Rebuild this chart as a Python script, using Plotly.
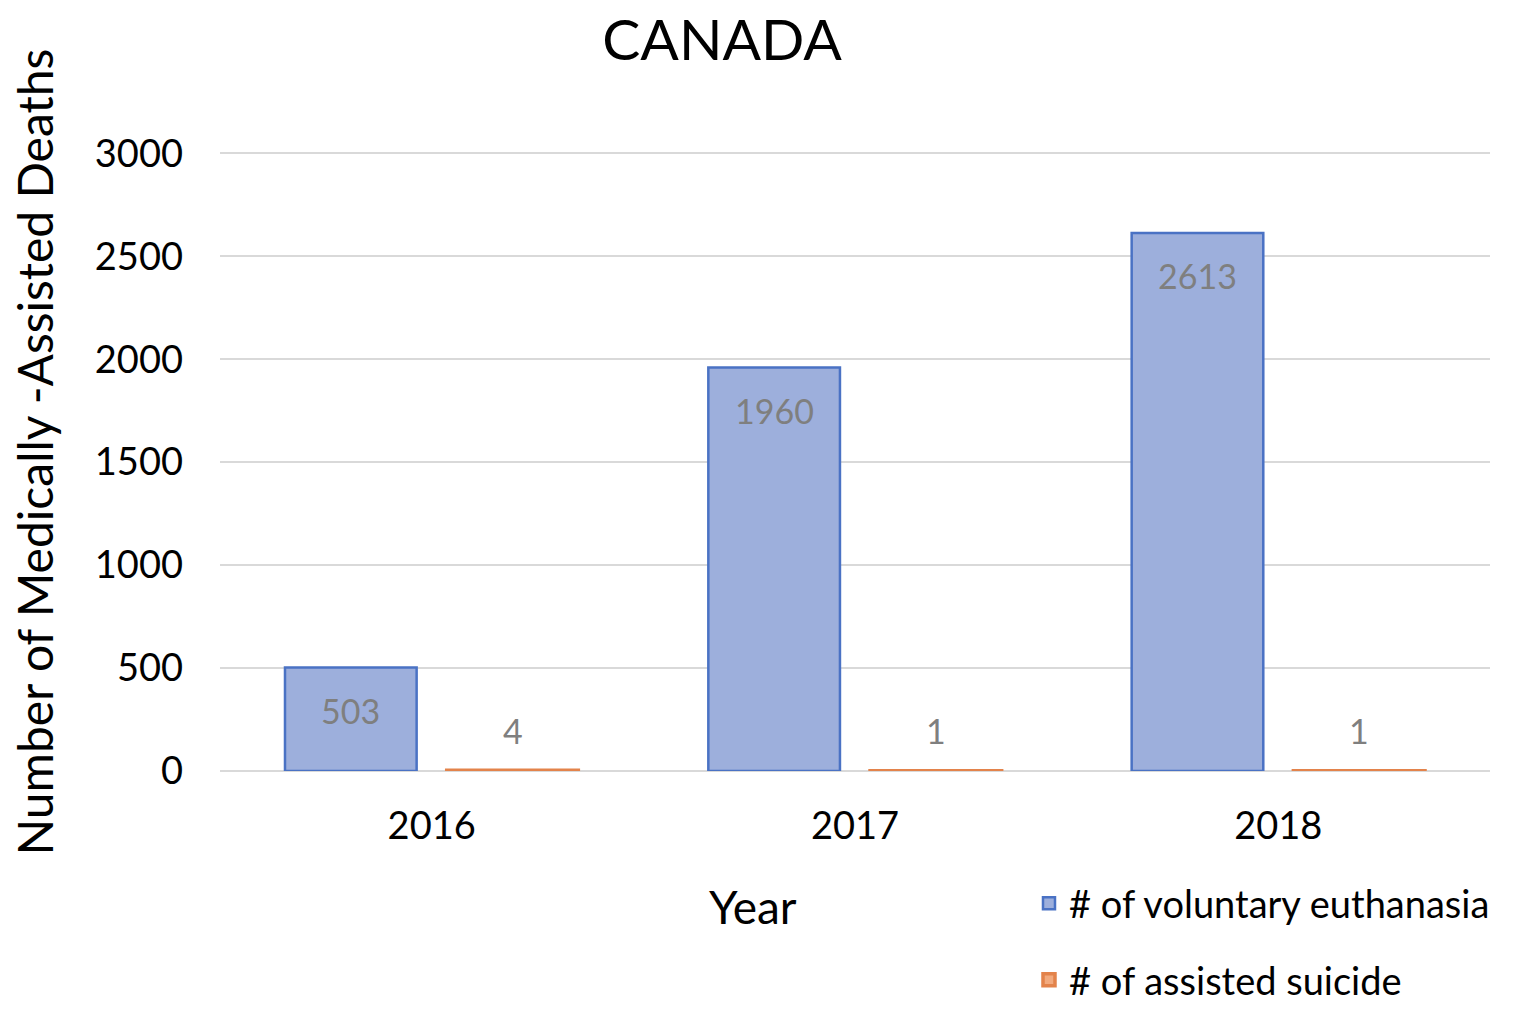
import plotly.graph_objects as go

years = ["2016", "2017", "2018"]
euthanasia = [503, 1960, 2613]
assisted_suicide = [4, 1, 1]
y_ticks = [0, 500, 1000, 1500, 2000, 2500, 3000]

FONT = "Lato, 'Open Sans', sans-serif"

fig = go.Figure()
fig.add_trace(go.Bar(
    x=years, y=euthanasia, name="# of voluntary euthanasia",
    legendgroup="a",
    marker=dict(color="#9dafdc", line=dict(color="#4a72c4", width=2.5)),
))
fig.add_trace(go.Bar(
    x=years, y=assisted_suicide, name="# of assisted suicide",
    legendgroup="b",
    marker=dict(color="#f2aa7e", line=dict(color="#e3834b", width=3.5)),
))

# data labels (category index positions on the category axis)
for i, v in enumerate(euthanasia):
    fig.add_annotation(x=i, y=v, text=str(v), showarrow=False, xshift=-81, yshift=-43,
                       font=dict(family=FONT, size=34, color="#7f7f7f"))
for i, v in enumerate(assisted_suicide):
    fig.add_annotation(x=i, y=v, text=str(v), showarrow=False, xshift=81, yshift=40,
                       font=dict(family=FONT, size=34, color="#7f7f7f"))

fig.add_annotation(xref="paper", yref="paper", x=0.42, y=-0.216, yanchor="middle",
                   text="Year", showarrow=False,
                   font=dict(family=FONT, size=46, color="#000000"))
fig.add_annotation(xref="paper", yref="paper", x=-0.146, y=0.508, xanchor="center",
                   yanchor="middle", textangle=-90,
                   text="Number of Medically -Assisted Deaths", showarrow=False,
                   font=dict(family=FONT, size=48, color="#000000"))

fig.update_layout(
    width=1517, height=1010,
    margin=dict(l=220, r=27, t=143, b=239, autoexpand=False),
    paper_bgcolor="white", plot_bgcolor="white",
    barmode="group", bargap=0.236, bargroupgap=0.186,
    title=dict(text="CANADA", x=0.476, xref="container", xanchor="center",
               y=1 - 40 / 1010, yref="container", yanchor="middle",
               font=dict(family=FONT, size=57, color="#000000")),
    font=dict(family=FONT, color="#000000"),
    showlegend=True,
    legend=dict(x=0.637, y=-0.161, xanchor="left", yanchor="top", orientation="v",
                font=dict(family=FONT, size=38, color="#000000"),
                tracegroupgap=24, bgcolor="rgba(0,0,0,0)"),
    xaxis=dict(type="category", range=[-0.5, 2.5], showgrid=False, showline=False, ticks="",
               ticklabelstandoff=29,
               tickfont=dict(family=FONT, size=38, color="#000000")),
    yaxis=dict(range=[0, 3050], tickvals=y_ticks, showgrid=True, gridcolor="#d9d9d9", gridwidth=2,
               zeroline=True, zerolinecolor="#d9d9d9", zerolinewidth=2, showline=False,
               ticks="", ticklabelstandoff=36,
               tickfont=dict(family=FONT, size=38, color="#000000")),
)

fig.write_html("out.html", config={"displayModeBar": False},
               post_script="document.body.style.margin='0px';")
